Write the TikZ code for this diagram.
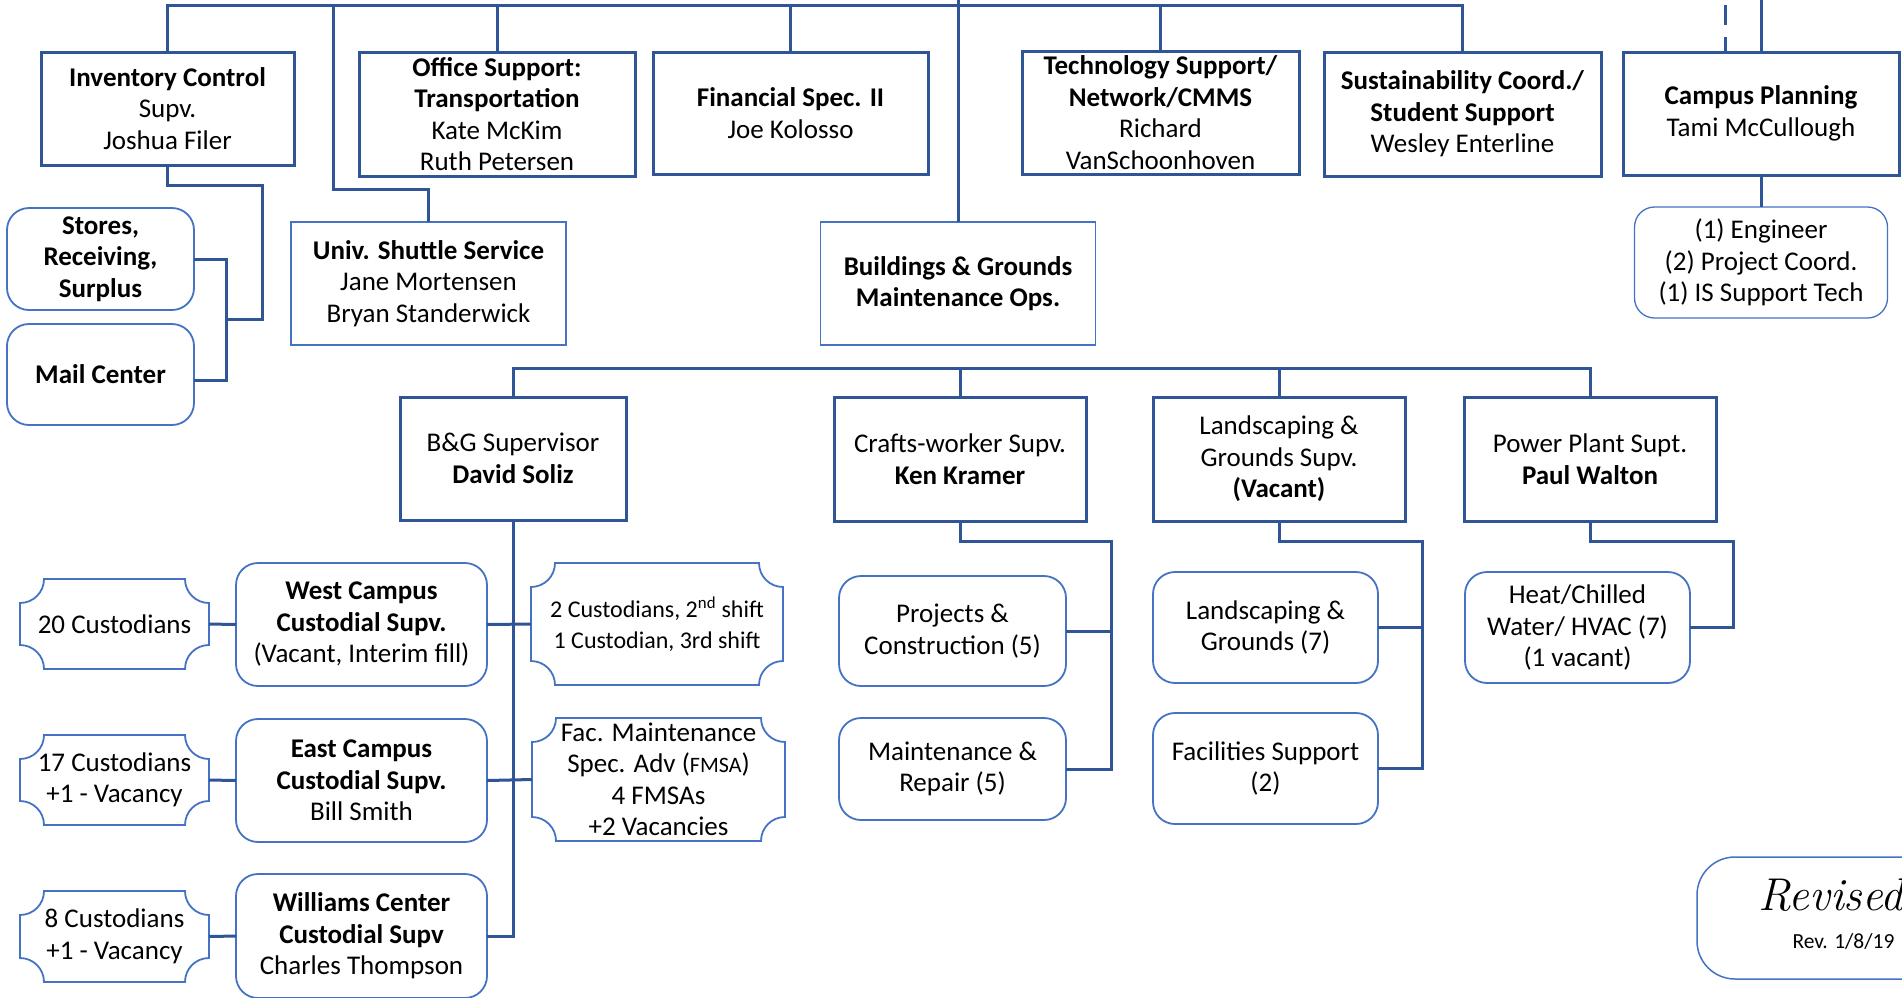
\documentclass[tikz,border=0pt]{standalone}
\usepackage{fontspec}
\setsansfont{Carlito}
\usetikzlibrary{calc}
\definecolor{dk}{RGB}{47,85,151}
\definecolor{lt}{RGB}{68,114,196}
\tikzset{
  txt/.style={font=\sffamily\fontsize{27}{31.5}\selectfont, align=center, inner sep=0pt, outer sep=0pt, text=black},
  sz/.style 2 args={minimum width=#1pt, minimum height=#2pt},
  sqbox/.style={txt, draw=dk, line width=3pt, fill=white},
  thinbox/.style={txt, draw=lt, line width=1.5pt, fill=white},
  rbox/.style={txt, draw=lt, line width=1.8pt, fill=white, rounded corners=22pt},
  plq/.style={txt},
  plqline/.style={draw=lt, line width=1.8pt},
  conn/.style={draw=dk, line width=3pt},
}
\newcommand\plaquedraw[1]{%
\draw[plqline]
 ($(#1.north west)+(24,0)$) -- ($(#1.north east)+(-24,0)$)
 .. controls ($(#1.north east)+(-24,13.3)$) and ($(#1.north east)+(-13.3,24)$) .. ($(#1.north east)+(0,24)$)
 -- ($(#1.south east)+(0,-24)$)
 .. controls ($(#1.south east)+(-13.3,-24)$) and ($(#1.south east)+(-24,-13.3)$) .. ($(#1.south east)+(-24,0)$)
 -- ($(#1.south west)+(24,0)$)
 .. controls ($(#1.south west)+(24,-13.3)$) and ($(#1.south west)+(13.3,-24)$) .. ($(#1.south west)+(0,-24)$)
 -- ($(#1.north west)+(0,24)$)
 .. controls ($(#1.north west)+(13.3,24)$) and ($(#1.north west)+(24,13.3)$) .. ($(#1.north west)+(24,0)$)
 -- cycle;}
\begin{document}
\begin{tikzpicture}[x=1pt,y=-1pt]
\path[use as bounding box] (0,0) rectangle (1902,997);
\clip (0,0) rectangle (1902,997);

% ---------- top row ----------
\node[sqbox, sz={253}{113}] (inv) at (167.5,108.5) {\textbf{Inventory Control}\\Supv.\\Joshua Filer};
\node[sqbox, sz={276}{124}] (off) at (497,114) {\textbf{Office Support:}\\\textbf{Transportation}\\Kate McKim\\Ruth Petersen};
\node[sqbox, sz={275}{122}] (fin) at (790.5,113) {\textbf{Financial Spec. II}\\Joe Kolosso};
\node[sqbox, sz={277}{123}] (tech) at (1160.5,112.5) {\textbf{Technology Support/}\\\textbf{Network/CMMS}\\Richard\\VanSchoonhoven};
\node[sqbox, sz={277}{124}] (sus) at (1462.5,114) {\textbf{Sustainability Coord./}\\\textbf{Student Support}\\Wesley Enterline};
\node[sqbox, sz={276}{123}] (cp) at (1761,113.5) {\textbf{Campus Planning}\\Tami McCullough};

% ---------- second row ----------
\node[rbox, sz={187}{102}] (stores) at (100.5,259) {\textbf{Stores,}\\\textbf{Receiving,}\\\textbf{Surplus}};
\node[rbox, sz={187}{101}] (mail) at (100.5,374.5) {\textbf{Mail Center}};
\node[thinbox, sz={275}{123}] (shuttle) at (428.5,283.5) {\textbf{Univ. Shuttle Service}\\Jane Mortensen\\Bryan Standerwick};
\node[thinbox, sz={275}{123}] (bgm) at (958,283.5) {\textbf{Buildings \& Grounds}\\\textbf{Maintenance Ops.}};
\node[rbox, sz={253}{111}, line width=1.3pt, rounded corners=20pt] (eng) at (1761,262.5) {(1) Engineer\\(2) Project Coord.\\(1) IS Support Tech};

% ---------- supervisors ----------
\node[sqbox, sz={226}{123}] (bgs) at (513,458.5) {B\&G Supervisor\\\textbf{David Soliz}};
\node[sqbox, sz={252}{124}] (crafts) at (960,459) {Crafts-worker Supv.\\\textbf{Ken Kramer}};
\node[sqbox, sz={252}{124}] (land) at (1279,459) {Landscaping \&\\Grounds Supv.\\\textbf{(Vacant)}};
\node[sqbox, sz={252}{124}] (power) at (1590,459) {Power Plant Supt.\\\textbf{Paul Walton}};

% ---------- custodial ----------
\node[rbox, sz={251}{123}] (west) at (361.5,624.5) {\textbf{West Campus}\\\textbf{Custodial Supv.}\\(Vacant, Interim fill)};
\node[rbox, sz={251}{123}] (east) at (361.5,780.5) {\textbf{East Campus}\\\textbf{Custodial Supv.}\\Bill Smith};
\node[rbox, sz={251}{124}] (will) at (361.5,936) {\textbf{Williams Center}\\\textbf{Custodial Supv}\\Charles Thompson};
\node[plq, sz={189}{90}] (c20) at (114.5,624) {20 Custodians};
\node[plq, sz={189}{90}] (c17) at (114.5,780) {17 Custodians\\+1 - Vacancy};
\node[plq, sz={189}{91}] (c8) at (114.5,936.5) {8 Custodians\\+1 - Vacancy};
\node[plq, sz={252}{122}, font=\sffamily\fontsize{24}{31}\selectfont] (shifts) at (657,624) {2 Custodians, 2\textsuperscript{nd} shift\\1 Custodian, 3rd shift};
\node[plq, sz={253}{123}] (fmsa) at (658.5,779.5) {Fac. Maintenance\\Spec. Adv ({\fontsize{22}{31.5}\selectfont FMSA})\\4 FMSAs\\+2 Vacancies};
\plaquedraw{c20}
\plaquedraw{c17}
\plaquedraw{c8}
\plaquedraw{shifts}
\plaquedraw{fmsa}

% ---------- trades ----------
\node[rbox, sz={227}{110}] (proj) at (952.5,631) {Projects \&\\Construction (5)};
\node[rbox, sz={227}{102}] (maint) at (952.5,769) {Maintenance \&\\Repair (5)};
\node[rbox, sz={225}{111}] (lg) at (1265.5,627.5) {Landscaping \&\\Grounds (7)};
\node[rbox, sz={225}{111}] (fac) at (1265.5,768.5) {Facilities Support\\(2)};
\node[rbox, sz={225}{111}] (heat) at (1577.5,627.5) {Heat/Chilled\\Water/ HVAC (7)\\(1 vacant)};

% ---------- revised ----------
\node[draw=lt, line width=1.5pt, rounded corners=38pt, minimum width=292pt, minimum height=122pt, inner sep=0pt] (rev) at (1843,918) {};
\node[inner sep=0pt, anchor=base west, font=\rmfamily\itshape\fontsize{46}{50}\selectfont] (revt) at (1758,910) {Revised};
\node[inner sep=0pt, anchor=base, font=\sffamily\fontsize{21.5}{26}\selectfont] (revd) at (1843.5,948) {Rev. 1/8/19};

% ---------- connectors ----------
\coordinate (topL) at (167,5);
\coordinate (topM) at (958,0);
\draw[conn] (inv.north) -- (inv.north |- topL) -- (sus.north |- topL) -- (sus.north);
\draw[conn] (off.north) -- (off.north |- topL);
\draw[conn] (fin.north) -- (fin.north |- topL);
\draw[conn] (tech.north) -- (tech.north |- topL);
\draw[conn] (topM) -- (bgm.north);
% shuttle
\coordinate (shtop) at (333,5);
\coordinate (shm) at (333,189);
\draw[conn] (shtop) -- (shm) -| (shuttle.north);
% inventory
\coordinate (iv) at (262,185);
\coordinate (ivb) at (262,319);
\coordinate (ivj) at (226,319);
\draw[conn] (inv.south) |- (iv) -- (ivb) -- (ivj);
\draw[conn] (stores.east) -| (ivj) |- ([yshift=-6pt]mail.east);
% campus planning
\coordinate (cptop) at (1761,0);
\coordinate (dtop) at (1725,5);
\draw[conn] (cptop) -- (cp.north);
\draw[conn, dash pattern=on 20pt off 12pt] (dtop) -- (dtop |- cp.north);
\draw[conn] (cp.south) -- (eng.north);
% B&G supervisors bus
\coordinate (bus) at (513,368);
\draw[conn] (bgs.north) |- (bus) -| (power.north);
\draw[conn] (crafts.north) -- (crafts.north |- bus);
\draw[conn] (land.north) -- (land.north |- bus);
% custodial
\draw[conn] (bgs.south) |- (will.east);
\draw[conn] (west.east) -- (shifts.west);
\draw[conn] (east.east) -- (fmsa.west);
\draw[conn] (c20.east) -- (west.west);
\draw[conn] (c17.east) -- (east.west);
\draw[conn] (c8.east) -- (will.west);
% crafts
\coordinate (cr) at (1111,541);
\draw[conn] (crafts.south) |- (cr) -- (cr |- maint.east) -- (maint.east);
\draw[conn] (proj.east) -- (proj.east -| cr);
% landscaping
\coordinate (ld) at (1422,541);
\draw[conn] (land.south) |- (ld) -- (ld |- fac.east) -- (fac.east);
\draw[conn] (lg.east) -- (lg.east -| ld);
% power
\coordinate (pw) at (1733,541);
\draw[conn] (power.south) |- (pw) |- (heat.east);
\end{tikzpicture}
\end{document}
